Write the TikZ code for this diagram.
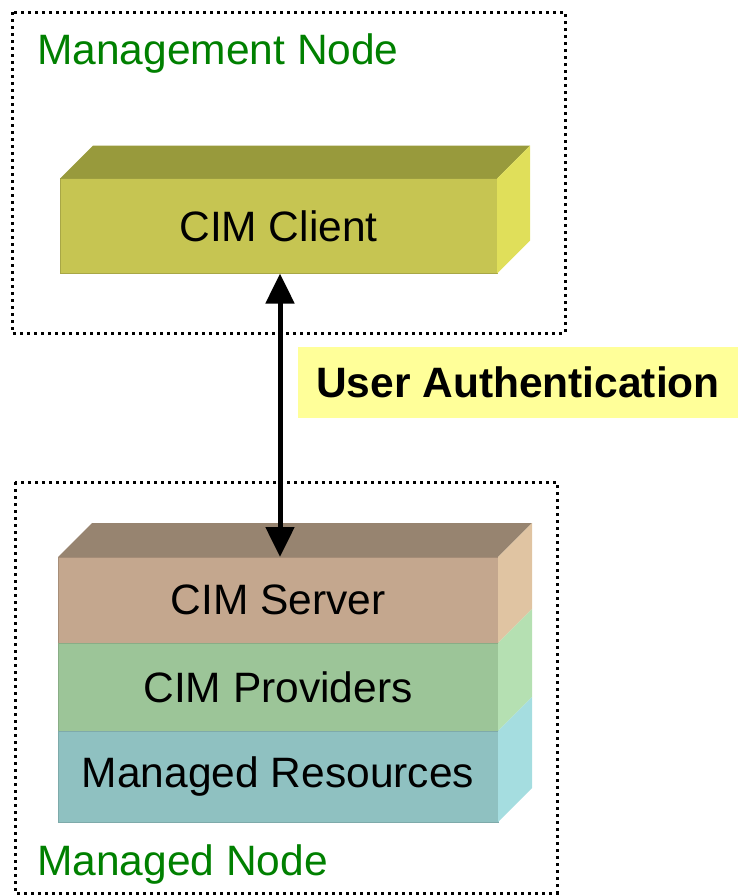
\documentclass[tikz,border=0pt]{standalone}
\usepackage{fontspec}
\setmainfont{Liberation Sans}
\usetikzlibrary{arrows.meta}
\definecolor{clientF}{HTML}{C6C552}
\definecolor{clientT}{HTML}{989A3C}
\definecolor{clientR}{HTML}{E0DF5A}
\definecolor{serverF}{HTML}{C4A78E}
\definecolor{serverT}{HTML}{978470}
\definecolor{serverR}{HTML}{E0C4A2}
\definecolor{provF}{HTML}{9CC598}
\definecolor{provR}{HTML}{B5E0B2}
\definecolor{resF}{HTML}{8FC1C1}
\definecolor{resR}{HTML}{A5DDE0}
\definecolor{nodegreen}{HTML}{008000}
\definecolor{labelyellow}{HTML}{FFFF99}
\tikzset{
  bigfont/.style={font=\fontsize{42.5}{48}\selectfont},
  face/.style={bigfont, inner sep=0pt, outer sep=0pt, anchor=center},
  group/.style={draw=black, line width=3pt, dash pattern=on 3pt off 4pt},
  grouplabel/.style={bigfont, text=nodegreen, anchor=base west, inner sep=0pt},
}
\begin{document}
\begin{tikzpicture}[x=1pt,y=-1pt]
\useasboundingbox (0,0) rectangle (738,895);

% group boxes
\draw[group] (12,12) rectangle (565,333);
\draw[group] (15,482) rectangle (557,893);
\node[grouplabel] (mgmtlabel) at (37,64) {Management Node};
\node[grouplabel] (managedlabel) at (37,875) {Managed Node};

% CIM client block
\node[face, fill=clientF, draw=clientF!85!black, line width=0.8pt, minimum width=437pt, minimum height=95pt] (client) at (278.5,226) {CIM Client};
\fill[clientT] (client.north west) -- ++(33,-33) -- ++(437,0) -- (client.north east) -- cycle;
\fill[clientR] (client.north east) -- ++(33,-33) -- ++(0,95) -- (client.south east) -- cycle;

% stack
\node[face, fill=serverF, draw=serverF!85!black, line width=0.8pt, minimum width=440pt, minimum height=86pt] (server) at (278,600) {CIM Server};
\node[face, fill=provF, draw=provF!88!black, line width=0.8pt, minimum width=440pt, minimum height=88pt] (prov) at (278,687) {CIM Providers};
\node[face, fill=resF, draw=resF!88!black, line width=0.8pt, minimum width=440pt, minimum height=91pt] (res) at (278,776.5) {Managed Resources};
\fill[serverT] (server.north west) -- ++(34,-34) -- ++(440,0) -- (server.north east) -- cycle;
\fill[serverR] (server.north east) -- ++(34,-34) -- ++(0,86) -- (server.south east) -- cycle;
\fill[provR] (prov.north east) -- ++(34,-34) -- ++(0,88) -- (prov.south east) -- cycle;
\fill[resR] (res.north east) -- ++(34,-34) -- ++(0,91) -- (res.south east) -- cycle;

% label
\node[font=\fontsize{42.5}{48}\selectfont\bfseries, fill=labelyellow, inner sep=0pt, minimum width=440pt, minimum height=71pt] (auth) at (518,382.5) {User Authentication};

% arrow
\draw[{Triangle[length=30pt,width=28pt]}-{Triangle[length=30pt,width=28pt]}, line width=5pt] ([xshift=1.5pt]client.south) -- ([xshift=2pt]server.north);
\end{tikzpicture}
\end{document}
